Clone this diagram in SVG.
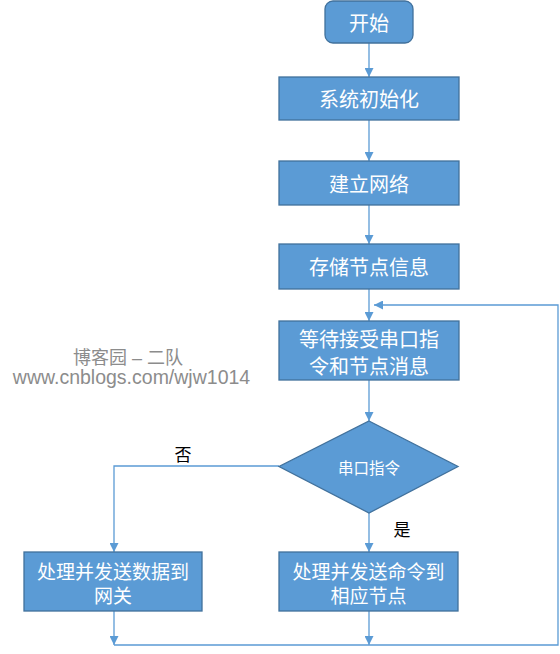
<svg xmlns="http://www.w3.org/2000/svg" width="560" height="654" viewBox="0 0 560 654">
<style>
.box{fill:#5B9BD5;stroke:#41719C;stroke-width:1.3}
.t{fill:#ffffff;font-family:"Noto Sans CJK SC","Liberation Sans",sans-serif;text-anchor:middle;dominant-baseline:central}
.c{fill:none;stroke:#5B9BD5;stroke-width:1.3}
.lbl{fill:#000;font-family:"Noto Sans CJK SC",sans-serif;font-size:17px;text-anchor:middle;dominant-baseline:central}
.wm{fill:#8c8c8c;font-family:"Liberation Sans","Noto Sans CJK SC",sans-serif;text-anchor:middle}
</style>
<defs>
<marker id="ah" viewBox="0 0 10 10" refX="10" refY="5" markerWidth="9" markerHeight="9" markerUnits="userSpaceOnUse" orient="auto">
<path d="M0,0 L10,5 L0,10 Z" fill="#5B9BD5"/>
</marker>
</defs>
<g id="connectors">
<path class="c" d="M369,43 V77" marker-end="url(#ah)"/>
<path class="c" d="M369,120 V161" marker-end="url(#ah)"/>
<path class="c" d="M369,205 V244" marker-end="url(#ah)"/>
<path class="c" d="M369,289 V321" marker-end="url(#ah)"/>
<path class="c" d="M369,380 V421" marker-end="url(#ah)"/>
<path class="c" d="M279,466 H114 V552" marker-end="url(#ah)"/>
<path class="c" d="M369,513 V552" marker-end="url(#ah)"/>
<path class="c" d="M114,611 V645" marker-end="url(#ah)"/>
<path class="c" d="M369,611 V645" marker-end="url(#ah)"/>
<path class="c" d="M114,645 H558 V305 H374" marker-end="url(#ah)"/>
</g>
<g id="start"><rect class="box" x="325" y="1" width="88" height="42" rx="8"/><text class="t" x="369" y="22" font-size="20">开始</text></g>
<g id="init"><rect class="box" x="279" y="77" width="180" height="43"/><text class="t" x="369" y="98.5" font-size="20">系统初始化</text></g>
<g id="network"><rect class="box" x="279" y="161" width="180" height="44"/><text class="t" x="369" y="183" font-size="20">建立网络</text></g>
<g id="store"><rect class="box" x="279" y="244" width="180" height="45"/><text class="t" x="369" y="266.5" font-size="20">存储节点信息</text></g>
<g id="wait"><rect class="box" x="279" y="321" width="180" height="59"/><text class="t" x="369" y="338" font-size="20">等待接受串口指</text><text class="t" x="369" y="365" font-size="20">令和节点消息</text></g>
<g id="decision"><polygon class="box" points="369,421 458,466.5 369,513 279,466.5"/><text class="t" x="369" y="466.5" font-size="15.5">串口指令</text></g>
<g id="gateway"><rect class="box" x="24" y="552" width="178" height="59"/><text class="t" x="113" y="570" font-size="19">处理并发送数据到</text><text class="t" x="113" y="594" font-size="19">网关</text></g>
<g id="node"><rect class="box" x="279" y="552" width="179" height="59"/><text class="t" x="368.5" y="570" font-size="19">处理并发送命令到</text><text class="t" x="368.5" y="594" font-size="19">相应节点</text></g>
<text class="lbl" x="183" y="453">否</text>
<text class="lbl" x="402" y="528">是</text>
<g id="watermark">
<text class="wm" x="128" y="364" font-size="18">博客园 – 二队</text>
<text class="wm" x="131.5" y="384" font-size="19.5">www.cnblogs.com/wjw1014</text>
</g>
</svg>
